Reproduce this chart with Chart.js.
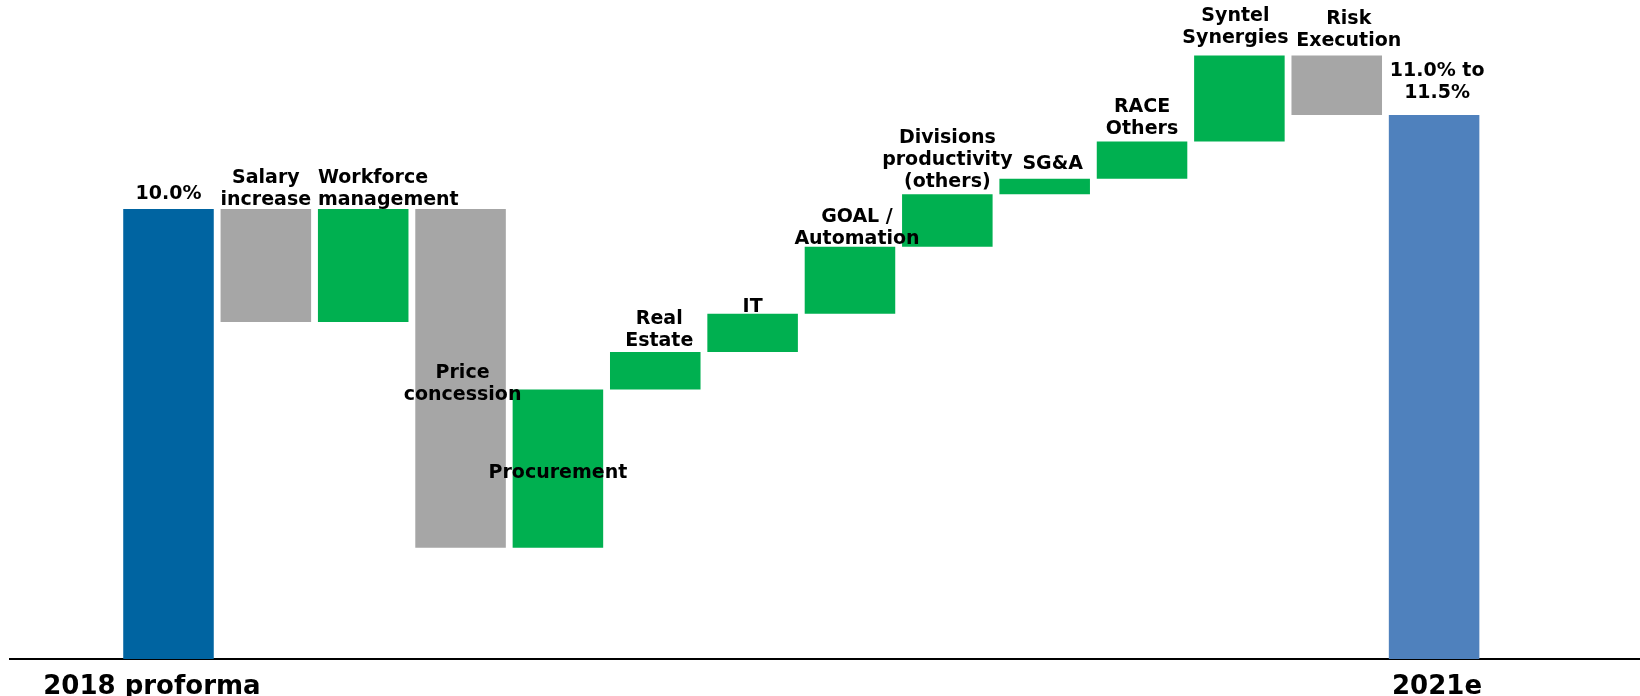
<!DOCTYPE html>
<html>
<head>
<meta charset="utf-8">
<script src="https://cdn.jsdelivr.net/npm/chart.js@4.4.1/dist/chart.umd.min.js"></script>
<style>
    html, body { margin: 0; padding: 0; background: #fff; }
    #wrap { width: 1640px; height: 696px; }
</style>
</head>
<body>
<div id="wrap"><canvas id="chart" width="1640" height="696"></canvas></div>
<script>
// waterfall steps, values (bar ends, in %-points of the drawing)
const categories = ['2018 proforma', 'Salary increase', 'Workforce management', 'Price concession', 'Procurement',
    'Real Estate', 'IT', 'GOAL / Automation', 'Divisions productivity (others)', 'SG&A', 'RACE Others',
    'Syntel Synergies', 'Risk Execution', '2021e'];
const lows = [0, 7.49, 7.49, 2.47, 2.47, 5.99, 6.82, 7.67, 9.16, 10.33, 10.67, 11.50, 12.09, 0];
const highs = [10.0, 10.0, 10.0, 10.0, 5.99, 6.82, 7.67, 9.16, 10.33, 10.67, 11.50, 13.41, 13.41, 12.09];
const kinds = ['start', 'cost', 'gain', 'cost', 'gain', 'gain', 'gain', 'gain', 'gain', 'gain', 'gain', 'gain', 'cost', 'end'];
const barLabels = [
    ['10.0%'], ['Salary', 'increase'], ['Workforce', 'management'], ['Price', 'concession'], ['Procurement'],
    ['Real', 'Estate'], ['IT'], ['GOAL /', 'Automation'], ['Divisions', 'productivity', '(others)'], ['SG&A'],
    ['RACE', 'Others'], ['Syntel', 'Synergies'], ['Risk', 'Execution'], ['11.0% to', '11.5%'],
];
const tickIndexes = [0, 13];

const colors = { start: '#0064A1', cost: '#A6A6A6', gain: '#00B050', end: '#4F81BD' };

// where each label sits: baseline of the last line relative to the bar top, x shift, alignment
const labelPlace = [
    { dy: -10, dx: 0 }, { dy: -4, dx: 0 }, { dy: -4, dx: 0, align: 'left' }, { dy: 191, dx: 2 },
    { dy: 89, dx: 0 }, { dy: -6, dx: 4 }, { dy: -2, dx: 0 }, { dy: -3, dx: 7 }, { dy: -7, dx: 0 },
    { dy: -10, dx: 8 }, { dy: -7, dx: 0 }, { dy: -13, dx: -4 }, { dy: -10, dx: 12 }, { dy: -17, dx: 3 },
];
// small nudge of the two axis labels (in category units)
const tickShift = { 0: -0.17, 13: 0.03 };

const labelPlugin = {
    id: 'barLabels',
    afterDatasetsDraw(chart) {
        const ctx = chart.ctx;
        const meta = chart.getDatasetMeta(0);
        ctx.save();
        ctx.font = 'bold 19px "DejaVu Sans"';
        ctx.fillStyle = '#000';
        ctx.textBaseline = 'alphabetic';
        meta.data.forEach((bar, i) => {
            const place = labelPlace[i];
            const lines = barLabels[i];
            const top = Math.min(bar.y, bar.base);
            let x = bar.x + place.dx;
            ctx.textAlign = place.align || 'center';
            if (place.align === 'left') {
                x = bar.x - bar.width / 2;
            }
            lines.forEach((line, k) => {
                const y = top + place.dy - (lines.length - 1 - k) * 22;
                ctx.fillText(line, x, y);
            });
        });
        ctx.restore();
    },
};

new Chart(document.getElementById('chart'), {
    type: 'bar',
    data: {
        datasets: [{
            data: categories.map((c, i) => ({ x: i, y: [lows[i], highs[i]] })),
            backgroundColor: kinds.map((k) => colors[k]),
            borderWidth: 0,
            barPercentage: 0.93,
            categoryPercentage: 1,
        }],
    },
    options: {
        responsive: false,
        devicePixelRatio: 1,
        animation: false,
        layout: { padding: { left: 10, right: 0, top: 0, bottom: 0 } },
        plugins: { legend: { display: false }, tooltip: { enabled: false } },
        scales: {
            x: {
                type: 'linear',
                offset: false,
                bounds: 'data',
                min: -1.628,
                max: 15.115,
                grid: { display: false },
                border: { display: true, color: '#000', width: 2 },
                afterBuildTicks: (scale) => {
                    scale.ticks = tickIndexes.map((v) => ({ value: v + tickShift[v] }));
                },
                afterFit: (scale) => {
                    scale.height = 37;
                },
                ticks: {
                    autoSkip: false,
                    maxRotation: 0,
                    padding: 5,
                    color: '#000',
                    font: { family: 'DejaVu Sans', size: 26, weight: 'bold' },
                    callback: (value) => categories[Math.round(value)],
                },
            },
            y: {
                display: false,
                min: 0,
                max: 14.644,
            },
        },
    },
    plugins: [labelPlugin],
});
</script>
</body>
</html>
